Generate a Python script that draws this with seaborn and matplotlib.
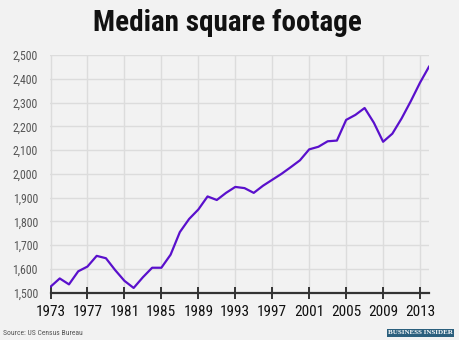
import matplotlib
matplotlib.use("Agg")
import matplotlib.pyplot as plt
import seaborn as sns
import pandas as pd
from matplotlib.ticker import FuncFormatter, FixedLocator, MultipleLocator
from matplotlib.patches import Rectangle
from matplotlib import font_manager as fm

years = list(range(1973, 2015))
median_sqft = [1525, 1560, 1535, 1590, 1610, 1655, 1645, 1595, 1550, 1520,
               1565, 1605, 1605, 1660, 1755, 1810, 1850, 1905, 1890, 1920,
               1945, 1940, 1920, 1950, 1975, 2000, 2028, 2057, 2103, 2114,
               2137, 2140, 2227, 2248, 2277, 2215, 2135, 2169, 2233, 2306,
               2384, 2453]
x_ticks = list(range(1973, 2014, 4))
title = "Median square footage"
source = "Source: US Census Bureau"
brand = "BUSINESS INSIDER"

df = pd.DataFrame({"year": years, "sqft": median_sqft})

installed = {f.name for f in fm.fontManager.ttflist}
cond_pref = [n for n in ["Roboto Condensed", "Barlow Condensed", "Archivo Narrow",
                         "Asap Condensed"] if n in installed]
cond = (cond_pref[:1] or []) + ["DejaVu Sans"]

sns.set_theme(style="white")
bg = "#f2f2f2"
plt.rcParams["font.family"] = ["Roboto", "DejaVu Sans"]

fig = plt.figure(figsize=(4.6, 3.4), dpi=100, facecolor=bg)
ax = fig.add_axes([50.5 / 460, 1 - 292.7 / 340, (429.3 - 50.5) / 460, (292.7 - 55) / 340])
ax.set_facecolor(bg)

sns.lineplot(data=df, x="year", y="sqft", ax=ax, color="#5a10cc", linewidth=1.6)

ax.set_xlim(1973, 2014)
ax.set_ylim(1500, 2500)
ax.xaxis.set_major_locator(FixedLocator(x_ticks))
ax.yaxis.set_major_locator(MultipleLocator(100))
ax.yaxis.set_major_formatter(FuncFormatter(lambda v, p: f"{int(v):,}"))
ax.grid(True, color="#dcdcdc", linewidth=1.0)
ax.set_axisbelow(True)
for s in ["top", "right", "left"]:
    ax.spines[s].set_visible(False)
ax.spines["bottom"].set_color("#333333")
ax.spines["bottom"].set_linewidth(1.6)
ax.spines["bottom"].set_zorder(5)
ax.tick_params(axis="x", direction="inout", length=8, width=1.4, color="#333333",
               pad=5, labelsize=11, labelcolor="#111111", bottom=True)
ax.tick_params(axis="y", length=0, pad=9, labelsize=8.5, labelcolor="#555555", left=False)
for lab in ax.get_xticklabels():
    lab.set_family(cond)
for lab in ax.get_yticklabels():
    lab.set_family(cond)
ax.set_xlabel("")
ax.set_ylabel("")

fig.text(0.495, 1 - 23 / 340, title, ha="center", va="center", fontsize=21,
         fontweight="bold", family=cond, color="#111111")
fig.text(3 / 460, 1 - 333 / 340, source, ha="left", va="center", fontsize=5.5,
         color="#555555", family=cond)
fig.patches.append(Rectangle((386.7 / 460, 1 - 336.7 / 340), (454.3 - 386.7) / 460,
                             7.4 / 340, transform=fig.transFigure,
                             facecolor="#2b5f7d", edgecolor="none"))
fig.text(420.5 / 460, 1 - 333 / 340, brand, ha="center", va="center", fontsize=5,
         color="white", family=["Liberation Serif", "DejaVu Serif"], fontweight="bold")

fig.savefig("out.png", dpi=100, facecolor=bg)
